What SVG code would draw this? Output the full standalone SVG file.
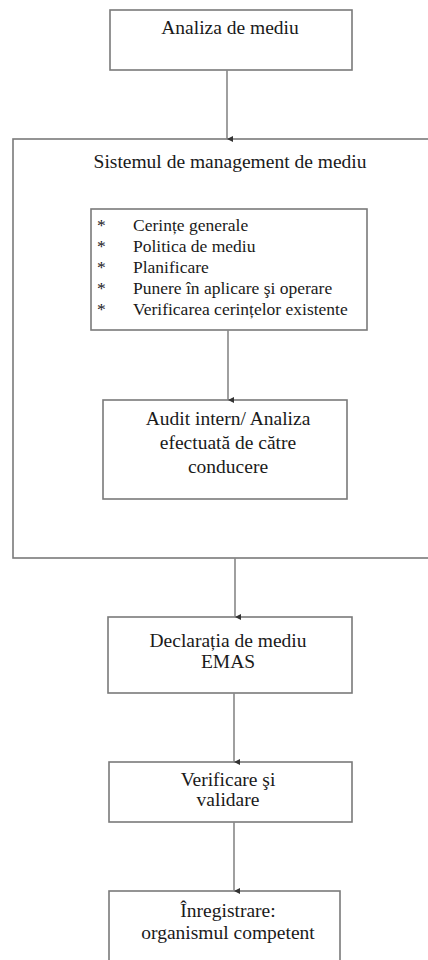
<svg xmlns="http://www.w3.org/2000/svg" width="428" height="960" viewBox="0 0 428 960">
<style>
.box{fill:#fff;stroke:#7a7a7a;stroke-width:1.6}
text{font-family:'Liberation Serif','Times New Roman',serif;fill:#1a1a1a}
.t{font-size:19.5px;text-anchor:middle}
.l{font-size:17.5px}
.c{stroke:#888;stroke-width:1.6;fill:none;marker-end:url(#ah)}
</style>
<defs>
<marker id="ah" viewBox="0 0 6 6" refX="3" refY="6" markerWidth="6" markerHeight="6" markerUnits="userSpaceOnUse" orient="auto-start-reverse">
<path d="M0,0 L6,0 L3,6 Z" fill="#333"/>
</marker>
</defs>
<rect width="428" height="960" fill="#fff"/>
<g id="n-analiza">
<rect class="box" x="110" y="10" width="242" height="60"/>
<text class="t" x="230" y="34">Analiza de mediu</text>
</g>
<g id="n-sistem">
<rect class="box" x="13" y="139" width="440" height="419"/>
<text class="t" x="230" y="168">Sistemul de management de mediu</text>
</g>
<g id="n-lista">
<rect class="box" x="91" y="209" width="276" height="121"/>
<text class="l" x="97" y="231">*</text><text class="l" x="133" y="231">Cerințe generale</text>
<text class="l" x="97" y="252">*</text><text class="l" x="133" y="252">Politica de mediu</text>
<text class="l" x="97" y="273">*</text><text class="l" x="133" y="273">Planificare</text>
<text class="l" x="97" y="294">*</text><text class="l" x="133" y="294">Punere în aplicare şi operare</text>
<text class="l" x="97" y="315">*</text><text class="l" x="133" y="315">Verificarea cerințelor existente</text>
</g>
<g id="n-audit">
<rect class="box" x="103" y="400" width="244" height="99"/>
<text class="t" x="228" y="425">Audit intern/ Analiza</text>
<text class="t" x="228" y="449">efectuată de către</text>
<text class="t" x="228" y="473">conducere</text>
</g>
<g id="n-declaratia">
<rect class="box" x="108" y="617" width="244" height="76"/>
<text class="t" x="228" y="647">Declarația de mediu</text>
<text class="t" x="228" y="668">EMAS</text>
</g>
<g id="n-verificare">
<rect class="box" x="109" y="762" width="243" height="60"/>
<text class="t" x="228" y="786">Verificare şi</text>
<text class="t" x="228" y="806">validare</text>
</g>
<g id="n-inregistrare">
<rect class="box" x="109" y="891" width="231" height="80"/>
<text class="t" x="228" y="917">Înregistrare:</text>
<text class="t" x="228" y="939">organismul competent</text>
</g>
<g id="connectors">
<line class="c" x1="227" y1="70" x2="227" y2="139"/>
<line class="c" x1="228" y1="330" x2="228" y2="400"/>
<line class="c" x1="235" y1="558" x2="235" y2="617"/>
<line class="c" x1="234" y1="693" x2="234" y2="762"/>
<line class="c" x1="234" y1="822" x2="234" y2="891"/>
</g>
</svg>
